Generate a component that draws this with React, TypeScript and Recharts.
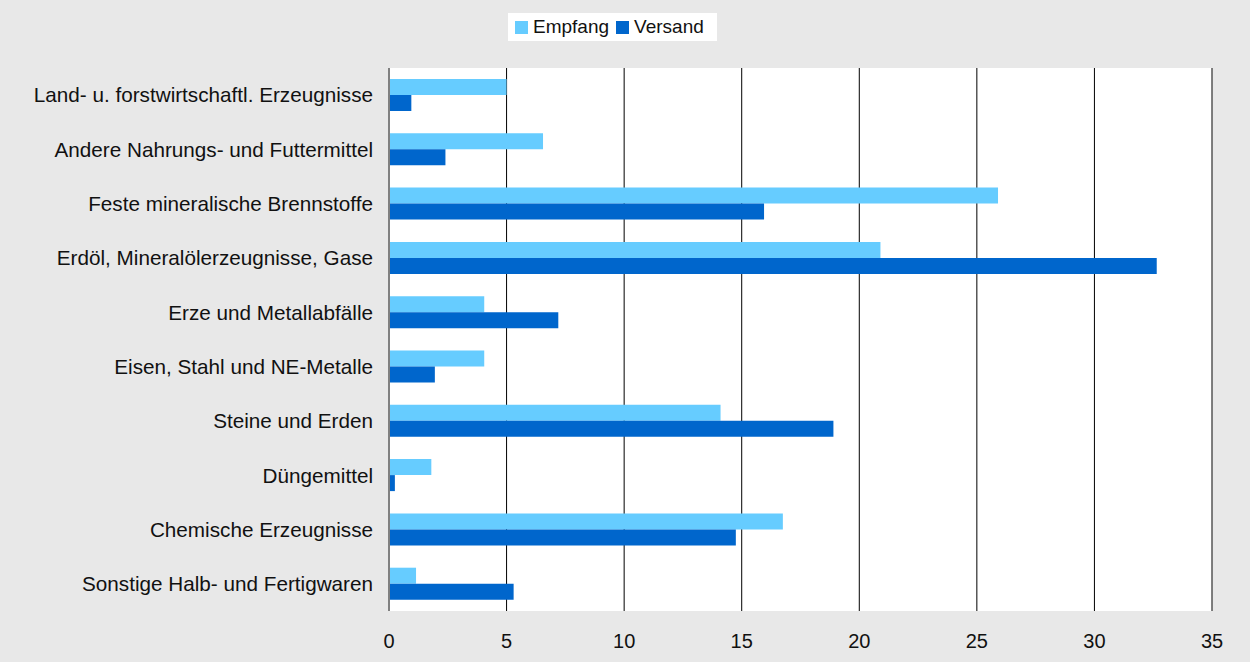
import { BarChart, Bar, XAxis, YAxis, CartesianGrid, Legend, ReferenceLine } from 'recharts'

const categories = [
  'Land- u. forstwirtschaftl. Erzeugnisse',
  'Andere Nahrungs- und Futtermittel',
  'Feste mineralische Brennstoffe',
  'Erdöl, Mineralölerzeugnisse, Gase',
  'Erze und Metallabfälle',
  'Eisen, Stahl und NE-Metalle',
  'Steine und Erden',
  'Düngemittel',
  'Chemische Erzeugnisse',
  'Sonstige Halb- und Fertigwaren',
]
const empfang = [5.0, 6.55, 25.9, 20.9, 4.05, 4.05, 14.1, 1.8, 16.75, 1.15]
const versand = [0.95, 2.4, 15.95, 32.65, 7.2, 1.95, 18.9, 0.25, 14.75, 5.3]
const xTicks = [0, 5, 10, 15, 20, 25, 30, 35]

const data = categories.map((name, i) => ({ name, Empfang: empfang[i], Versand: versand[i] }))

const FONT = '"Liberation Sans", Arial, Helvetica, sans-serif'
const LIGHT = '#66ccff'
const DARK = '#0066cc'

function LegendBox() {
  const items = [
    { label: 'Empfang', color: LIGHT },
    { label: 'Versand', color: DARK },
  ]
  return (
    <div
      style={{
        background: '#fff',
        height: 28,
        display: 'flex',
        alignItems: 'center',
        paddingLeft: 7,
        fontFamily: FONT,
        fontSize: 19,
        color: '#111',
        boxSizing: 'border-box',
      }}
    >
      {items.map((it) => (
        <span key={it.label} style={{ display: 'flex', alignItems: 'center', marginRight: 7 }}>
          <span style={{ width: 13, height: 13, background: it.color, display: 'inline-block', marginRight: 5 }} />
          {it.label}
        </span>
      ))}
    </div>
  )
}

export default function App() {
  return (
    <div style={{ position: 'absolute', top: 0, left: 0, width: 1250, height: 662, background: '#e8e8e8' }}>
      <BarChart
        width={1250}
        height={662}
        data={data}
        layout="vertical"
        margin={{ top: 68, right: 38, bottom: 0, left: 0 }}
        barSize={16}
        barGap={0}
      >
        <CartesianGrid horizontal={false} vertical={true} stroke="#000" fill="#fff" fillOpacity={1} />
        <XAxis
          type="number"
          domain={[0, 35]}
          ticks={xTicks}
          axisLine={false}
          tickLine={false}
          tickSize={0}
          tickMargin={23}
          height={51}
          interval={0}
          tick={{ fontSize: 20, fill: '#111', fontFamily: FONT }}
        />
        <YAxis
          type="category"
          dataKey="name"
          width={389}
          axisLine={{ stroke: '#808080', strokeWidth: 2 }}
          tickLine={false}
          tickSize={0}
          tickMargin={16}
          interval={0}
          tick={{ fontSize: 20.7, fill: '#111', fontFamily: FONT }}
        />
        <Legend
          verticalAlign="middle"
          align="center"
          content={() => <LegendBox />}
          wrapperStyle={{ top: 13, left: 508, width: 209, right: 'auto', bottom: 'auto' }}
        />
        <Bar dataKey="Empfang" fill={LIGHT} isAnimationActive={false} />
        <Bar dataKey="Versand" fill={DARK} isAnimationActive={false} />
        <ReferenceLine x={35} stroke="#808080" strokeWidth={1} />
      </BarChart>
    </div>
  )
}
